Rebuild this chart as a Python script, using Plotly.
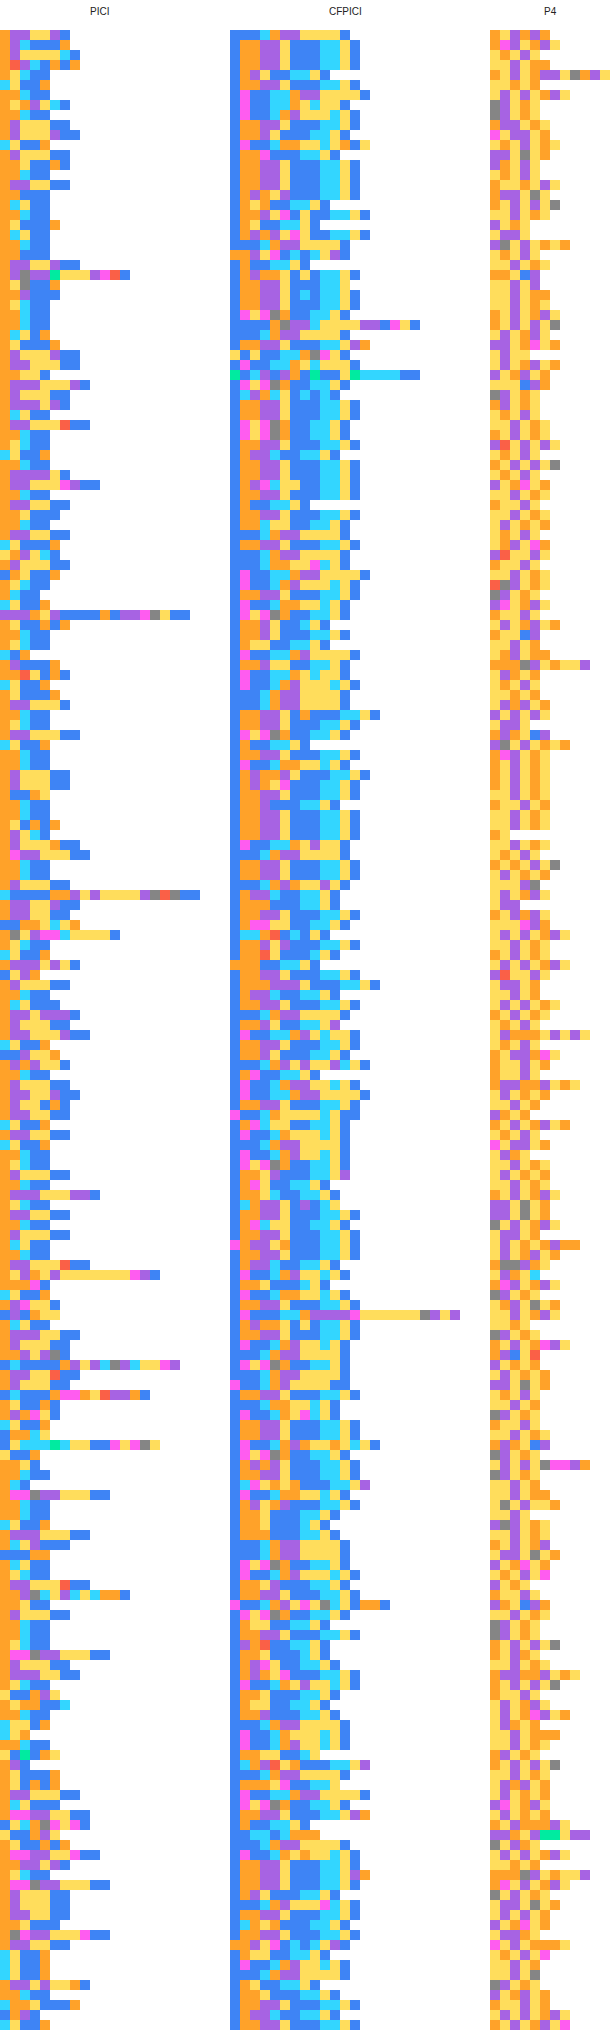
import plotly.graph_objects as go

CODES = "OPYBCMGRT"
COLORS = ["#FFA229", "#A763E3", "#FFDD5C", "#3E84F5", "#33D6FF", "#FF5CF0", "#858585", "#FA6047", "#00EBA0"]

PICI = """OPPYYPB OPCBBBO OPYYYYCB ORPCBOBO OYCBB CYBBO OOCBB OYOPYCB OOCBB OPYYYBB
OPYYYPBB CYBBO OPYYYBB OOYBBOB OOCBB OPPYYBB OOBBB OCYBB OOCBB OYBBBO
OCYBB OOCBB OOBBB OPPYYPBB OPGPPTYYYPMRB OYGBBO OOPBBB OYCBB OOCBB OOCBB
OCYBO OYBBBO OPYYYPBB OPPYYYBB OOYYB OPPPYYYPB OPYYYBB OPPPYPB OCYBB OPPYYYRBB
OOCBB OYCBB CYBBO OOCBB OPPPPYB OPPYYYMPBB OOCBB OPPYYBB OOYBBB OOCBB
OPPYYBB CYBBBO YOPYCB OPYYYBB BOYBBO OYCBB OCBB CYBBO PPPOYPBBBBOBPPMGYBB OYBBOBO
OOCBB OYCBB CBO OPBBBO OORYBOB CYBBO OYBBBO OPPYYYB OOCBB OYCBB
OPPYYYBB CYBBO OOCBB OOCBB OPYYYBB OPYYYBB OBBOY OOCBB OOCBB OYBOBO
OPYCB OPYYYOBB OMPPYYYBB OOCBB OOCBB OPYYYBB CBBBBOOPYPYYYYPGRGBB OPPYYPBB OPPYYBB BBOOYCYO
OGYPMMCYYYYB OYCBB CYBBO OPPPYPYB BYPO OPYYYBB OOCBB OCYBBB OPPYPPPB OPYYYBB
OPPYYYPBB CYBBO BBPYYO OPOPYYB OOCBB OPYYYBB OPPYYPBB OPYYBOB OPPYYBB CYBBO
OPPYYBB CYBBO OOCBB OYCBB OPYYYBB OOCBB OPPPYYYPPB OYCBB OPPYYBB OOCBB
OPYYYBB OCYBB OOCBB OPPYYYRBB OYPOYPYYYYYYYMPB OOOMB CYBBO OPMYYB BPBOYY OCYBB
OPPPYYBB OPYYYBB OOPYPGB BCBBBBOPYPCGPCYYMP OPPYYRBB OPYYYBB BCBBBOMMOYRPPOB OYBBOB OPOMYB CYBBO
BOOCY BYCCCTCYYBBMYMGY YBBO OOYB OOCBB OCB OMMGPPYYYBB OOCBB OOCBB CYBBO
OPPPYYYBB OCYPBBB BBBOO OCYBB OYCBB OPPYYYRBB OOPGCYPCYCOOB OOYBB OPYYYBB OOCBB
OOCBB OYCBB OMMGPPYYYBB OPYYYBB OPPPYYBB OYCBB YBBOPY OYOOBBC OOCBB CYYBO
CYO OOCBB YBTBOY OPB OYBBBO OYBOBO OPPYYYBB OCYBBB OMMPPYYBB BYCOGMYMB
YBBOPY OYBBOBO OMMPPYYMBB OOPPYPB OYCBB OMMGPPYYYBB OPYYYBB OPYYYBB OPPYYBB OOYBBB
OGMPPYYYMBB OPPYYBB CYBBO CYBBO CYBBO OPPYPYYOB OOCBB COOYBBBO BOPB CYBBO""".split()

CFPICI = """BBBCOPPYYYYB BOOPPYBBBCCYB BOOPPYBBBCCYB BOOPPYBBBCCYB BOPYBBCCYB BOOPPYBBBCCYB BMBBCCOPPYYYYB BMBBCCOYCYYB BMBBCOPYYYCYB BOOPPYBBBCCYB
BOOPYBBBCCYB BMBBCOOYYCYOBY BOOMBBBCCYB BOOPPYBBBCCYB BOOPPYBBBCCYB BOOPPYBBBCCYB BOPOYPBBBCCYB BOYOBBCCYB BOOPYMBYBBCCYB BOYBBCCYB
BOPOPYMYBBCCYB BBBCOPPYYYYB OOPYMBCBCYPB BOBBCCYB BOPOOYBYBCCYB BOOPPYBBBCCY BOOPPYBCBCCYB BOOPPYBBBCCYB BMYMGOBBCCYB BBBBOGPPCYYYYPPBMYB
BBBCOPPYYYYB BOOPPYBBBCCYPO YBYBBCCOGMYB BMBBCCOYCYYYB TBCPBPOBTBBYTCCCCBB BMYMGOBBCCYB BCPOCYBCBCB BOOPPYBBBCCYB BOOPPYBBBCCYB BMYMGOBBCCYB
BMYMGOBBCCYB BOOPPYBBBCCYB BOPPCBBCCYB BOOPPYBBBCCYB BOOPPYBBBCCYB BOPMCYYBBCCYB BOOPPYBBBCCYB BOBBCCYB BOOPPYBBBCCYB BOOCYYBBCCYB
BBBCOPPYYYYB BOOPPYBBBCCYB BBBCOPPYYYYB BBBCOOYYMCYB BMBBCCOPPYYYYB BMBBCOPYYYCYB BOOPPYBBBCCYB BMBBCOOYYCYB BMYMGOBBCCYB BOOPYBBCYB
BOOPYBBBCCYB BOYYBBCCYB BMBBCCOPYYYYB BOOPYYBBCCYB BMBBCCOYCYYB BMBBCOPYYYCYB BBBCOPPYYYYB BBBCOPPYYYYB BOOPPYBOBBBCCYB BOOPPYBBBCCYB
BMYMGOBBCCYB BOBBCCYB BOOPPYBBBCCYB BMBBCOOYYCYB BOPOOPYBBBCCYB BOPOYMBBBCCYB BOOPPYBBBCCYB BOOPBBBCCYB BOOPPYBBBCCYB BOOPPYBBBCCYB
BOOPPYBBBCCYB BMBBCCOYPYYB BBBCOPPYYYYB BOOPPYBBBCCYB BOOPPYBBBCCYB BBBCOPOYYPYB BOPPCBBCCYB BOOOBBBCCYB BOOPPYBBBCCYB BOMMYYBBCCYB
BCCORBCBYB BOOPYPBBBCCYB BOORYBBBCYB OOOBBCCYB BOOPPYBBBCCYB BOOOPPPYBBBCCYB BOPPCBBCCYB BOOPPYBBBCCYB BBBCOPPYYYYB BOOPYBBCCYP
BMBBCCOPYCYYB BOOPPYBBBCCYB BOOPYBBBCCYB BBBCOPYPYYPCYB BOMBBCCYB BMBBCOPPYYCYB BMBBCCOPPYYYYB BOOPPYBBBCCYB MBBCOYYYYCYBB BOMCYYBBCCYB
BMBBCOYYYCYB BBBCOPPYYYYB BMBBCOPYYCYB BMYMGOBBCCYB BOOYPBBBCCYP BOMYBBCCYB BOOYCBBCCYB BCOPPYBPBCY BOOPPYBBBCCYB BOMCYYBBCCYB
BOOPPYBBBCCYB MOPPYOBBBCCYB BOOPPYBBBCCYB BOPPCBBCCYB BMBBCOPYYCYB BOOYBBBCYB BMBBCOOYYCYB BOOPPYBBBCCYB BMBBBCCOPPPPMYYYYYYGPYP BOPOOYBYBCCYB
BOOPPYBBBCCYB BMBBCOPYYCYB BBBCOPPYYYYB BMYMGOBBCCYB BBBCOPPYYYYB MBBCOPYYYYBB BOOPPYBBBCCYB BBBCOOYYCYB BMBBCOYMCYB BOOPPYBBBCCYB
BOOPPYBBBCCYB BMBBCOPOYYOYCYB BMYMGOBBCCYB BOPOPYBBBCCYB BOOPPYBBBCCYB BCMYOYOBBBCCYP BMBBCOOYYCYB BOPYOPBBBCCYB BOOYBBBCCYB BOOYBBBCYB
BOOOBBBCCYB BBBCOPPYYYYB BBBCOPPYYYYB BMYMGOBBCCYB BMBBCOPYYYCYB BOOYPBBBCCYB BOOPPYBBBCCYB MBBCOPYMYGCYBOOB BMYMGOBBCCYB BOYYBBCCYB
BOOPPYBBBCCYB BPORBBCCYB BOOYBBBCYB BOPMYBBCCYB BOPOYMBBBCCYB BMBBCOYPYYCYB BOOYBBBCCYB BOYYBBCCYB BOOPBBBCCYB BBBCOPPYYYYB
BMBBCOYYYCYB BMBBCOPYYCYB BOOYYBBCY BCOPRYOBBBCCYP BBBCOPPYYYYB BOOOYMBBCCY BMBBCCOPPYYYYB BMYMGOBBCCYB BOOPPYBBBCCYPO BOBBCCYB
BBCCBCOOO BBBCOPPYYYYB BMBBCOYOYYCYB BOOPPYBBBCCYB BOOPPYBBBCCYPO BOOPPYBBBCCYB BOPYBBBCCYB BBBCOPYYYMCYB BOOPPYBBBCCYB BCOYOBBBCCYB
BOOPPYBBBCCYB OOPYMBCBCYPB BOYYBBCCYB BMBBCOPYYCYB BBBCOPPYYYYB BOYBBCCYB BOOYBBBCCYB BOOPPYBBBCCYB BOPPCBBCCYB BOOPPYBBBCCYB""".split()

P4 = """OYPOPO OMPYOPY YOYPY YYPYOO OYPYOPPYGOPY YYOYO YPYPYOPY GPYOY GPYOY OPPYOY
MYPPYO YOYPYOY PPYGYO POYPY YOYPY OYYOYPY OPPYGY OYPYPYG YYPYOY PYOY
YPPY PGYPYOYO YOYPY YYPYOY OOYBP YYPYP YYPYOO YYPYOY OYPYOPY OYPYPYG
YPYOPY PPYOMYO YPYY YPYOPYO PYOPYO YYYBPO GPYOY OPYOY YOYPY YYPYOY
OYPYOY PRYPYPY YOYPY OYPYPYG YOYPY PYOMYO YYPYOY OYYPY YYPYOY YPYOYO
YOYPY YOPYMO PRYYPY OYYPY YYPYOY RGPYOY GPYOY PMYOPY OYYPY YPYOPYO
OYYBP YYPYO YOPYOO OOOGPYOYYP YPOYO YOYPY YYOYO YPOPYO PYPYPY YPPY
OPOYBP PGYPYOYO OMPYOY OYPYOY OYPYOY OYPYOY YYPYOY OYYPYO YYPYOY YYPYOY
OY YYPYOY YOYPY OYOYPYG YPYOYO YYYPG YPYOPY YPP OYPOPY YYYMPO
YPYPYOPY YYPYOY OYPYOY YPYPYOPY PRYYPY YPPYO YYPYO YPYPYOY OYPYOY YOYPY
YPOOOYPYPY YOYPY OYPPOMY OYYPYO OYYPY OPPOOPYOY YPYOYO YYPYO POYO OYPYOPYO
YOYPY MYPPYO YPOY YYPYOY YPYOYO YYPYOY OYPYOPY PPYGYO PPYGYO GYPYOPY
YPPYO YPYOYOPOO YPYOPYO OGGPOY YPOYC OMPYOPY GPYOY YOPYGYO YYPYOPY YYOY
GPYOY OYPYOMPY OPBYR PYOYO YPYOYO PPYGYO YOYPY YYPYO GPYOY OYYPY
YYPYOY OPOYBP GPYOY YPYPYGMMPO GPYOY YYPYO YYPYOO YGYPYYO YYPY PGPYOY
YYPYOY OYPYOP YPPYGYO PYOMYO YOYPYM PYOY OYYPY POYBPO YYPYOY GPYOY
GPYOY OYPYPYG OYPOY YYPYOY OPPOOPYOY OYPYPYG OYYPY YPYOPY YPYOMPYO YPOYO
YYPYOOO YYPYOY OPYOY OYPYPYG YYPYOY YPOPYO YPYOYO PMYOPY YPYOYO OYPOOOPY
PPOYPTTYPP GYPOY YPYPYOPY YYOYO OOOGPYOYYP OMYPYOPY GYPYOY YPPYGYO YPYPYO PYOMYO
YPPOY MYPYOOOY YOYPYM YYPYO YYPYG GPYOY PYOPYO OYYPYO YPYPYOPY OYPYOPYM""".split()

TITLES = ["PICI", "CFPICI", "P4"]
PANELS = [PICI, CFPICI, P4]
COLS = [20, 23, 12]
STARTS = [0, 230, 490]
W, H, TOP, CELL = 610, 2030, 30, 10

def to_z(rows, ncols):
    return [[CODES.index(ch) for ch in r] + [None] * (ncols - len(r)) for r in rows]

n = len(CODES)
scale = []
for i, c in enumerate(COLORS):
    scale += [[i / n, c], [(i + 1) / n, c]]

fig = go.Figure()
layout = dict(width=W, height=H, margin=dict(l=0, r=0, t=0, b=0), autosize=False,
              paper_bgcolor="white", plot_bgcolor="white", showlegend=False)
annos = []
for k, (title, rows, nc, sx) in enumerate(zip(TITLES, PANELS, COLS, STARTS)):
    suffix = "" if k == 0 else str(k + 1)
    fig.add_trace(go.Heatmap(z=to_z(rows, nc), zmin=-0.5, zmax=n - 0.5, colorscale=scale,
                             showscale=False, hoverongaps=False,
                             xaxis="x" + suffix, yaxis="y" + suffix))
    dom = [sx / W, (sx + nc * CELL) / W]
    layout["xaxis" + suffix] = dict(domain=dom, range=[-0.5, nc - 0.5], visible=False, fixedrange=True)
    layout["yaxis" + suffix] = dict(domain=[0, (H - TOP) / H], range=[len(rows) - 0.5, -0.5], visible=False,
                                    fixedrange=True, anchor="x" + suffix)
    annos.append(dict(text=title, x=(dom[0] + dom[1]) / 2, y=1 - 11 / H, xref="paper", yref="paper",
                      xanchor="center", yanchor="middle", showarrow=False,
                      font=dict(family="Liberation Sans, Arial, sans-serif", size=10, color="#222222")))
layout["annotations"] = annos
fig.update_layout(**layout)
fig.write_html("out.html", config={"displayModeBar": False},
               post_script="document.body.style.margin='0';")
